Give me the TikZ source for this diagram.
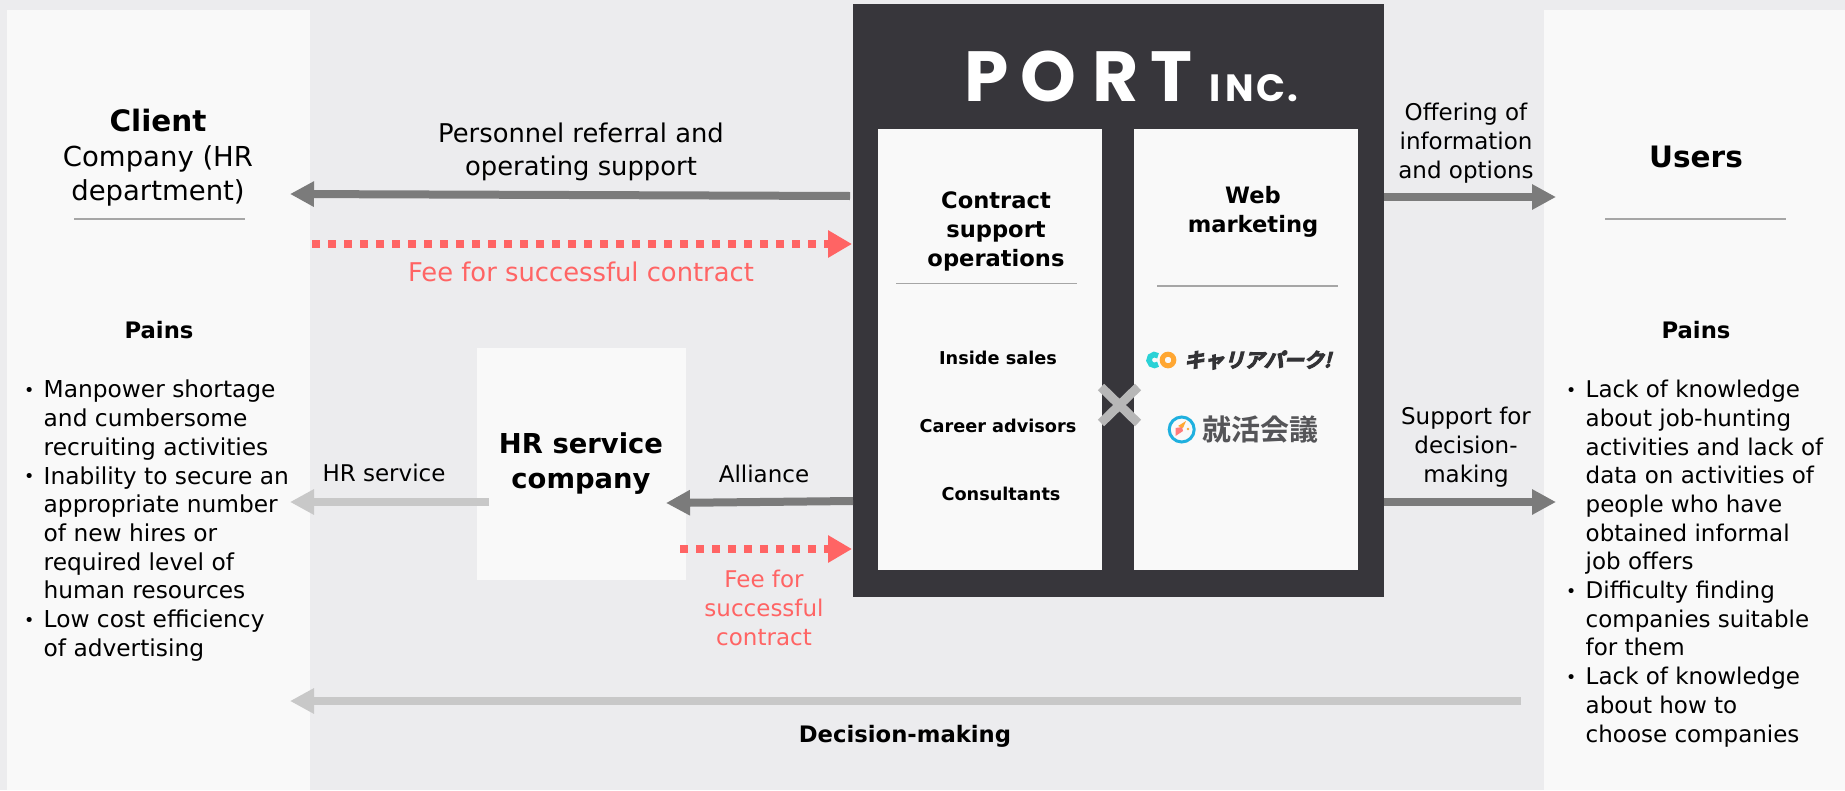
\documentclass[tikz,border=0pt]{standalone}
\usepackage{fontspec}
\setmainfont{DejaVu Sans}
\newfontfamily\cjkbold[FakeSlant=0.25,FakeBold=5]{Noto Sans CJK JP Bold}
\newfontfamily\cjkreg{Noto Sans CJK JP Bold}
\newfontfamily\portfont{Poppins}
\usetikzlibrary{arrows.meta}
\definecolor{bgc}{HTML}{ECECEE}
\definecolor{panel}{HTML}{F9F9F9}
\definecolor{darkb}{HTML}{37363B}
\definecolor{arrd}{HTML}{7B7B7B}
\definecolor{arrl}{HTML}{C8C8C8}
\definecolor{crossc}{HTML}{B7B7B7}
\definecolor{feec}{HTML}{FF6464}
\definecolor{sepc}{HTML}{A6A6A6}
\definecolor{logog}{HTML}{555558}
\definecolor{logok}{HTML}{333336}
\definecolor{logoc}{HTML}{2BD2D6}
\definecolor{logoo}{HTML}{FFA733}
\definecolor{logob}{HTML}{1FB0DF}
\newcommand{\bl}{\makebox[19.5pt][l]{\raisebox{1.5pt}{\scalebox{0.75}{•}}}}
\newcommand{\nb}{\makebox[19.5pt][l]{}}
\tikzset{
 x=1pt,y=-1pt,
 txt/.style={inner sep=0,align=center,text=black,font=\fontsize{23}{28.7}\selectfont},
 feetxt/.style={txt,text=feec},
 labw/.style={inner sep=0,align=center,text=black,font=\fontsize{25.8}{33}\selectfont},
 btxt/.style={inner sep=0,align=center,text=black,font=\bfseries\fontsize{22.7}{28.5}\selectfont},
 smallb/.style={inner sep=0,align=center,text=black,font=\bfseries\fontsize{17.7}{24}\selectfont},
 bigb/.style={inner sep=0,align=center,text=black,font=\bfseries\fontsize{27.4}{35}\selectfont},
 headb/.style={inner sep=0,align=center,text=black,font=\bfseries\fontsize{29.5}{35}\selectfont},
 boxh/.style={inner sep=0,align=center,text=black,font=\bfseries\fontsize{22.6}{29}\selectfont},
 bullets/.style={inner sep=0,align=left,anchor=north west,text=black,font=\fontsize{23.3}{28.7}\selectfont},
 sep/.style={draw=sepc,line width=1.2pt},
 conn/.style={line width=8pt,-{Triangle[length=24pt,width=24pt]}},
 connd/.style={conn,draw=arrd},
 connl/.style={conn,draw=arrl},
 connf/.style={line width=8pt,draw=feec,dash pattern=on 8pt off 8pt,-{Triangle[length=24pt,width=26pt]}},
 bigl/.style={inner sep=0,text=white,anchor=base,font=\portfont\bfseries\fontsize{71}{71}\selectfont},
 smalll/.style={inner sep=0,text=white,anchor=base,font=\portfont\bfseries\fontsize{38}{38}\selectfont},
}
\begin{document}
\begin{tikzpicture}
\useasboundingbox (0,0) rectangle (1845,790);
\fill[bgc] (0,0) rectangle (1845,790);
% panels
\fill[panel] (7,10) rectangle (310,790);
\fill[panel] (1544,10) rectangle (1845,790);
\fill[panel] (477,348) rectangle (686,580);
\fill[darkb] (853,4) rectangle (1384,597);
\fill[panel] (878,129) rectangle (1102,570);
\fill[panel] (1134,129) rectangle (1358,570);
% PORT logo
\node[bigl] (pP) at (987,101) {P};
\node[bigl] (pO) at (1048,101) {O};
\node[bigl] (pR) at (1116,101) {R};
\node[bigl] (pT) at (1171,101) {T};
\node[smalll] (pI) at (1215,101) {I};
\node[smalll] (pN) at (1240,101) {N};
\node[smalll] (pC) at (1271,101) {C};
\node[smalll] (pd) at (1293,101) {.};
% left column
\node[headb] (client) at (158,121) {Client};
\node[labw,font=\fontsize{27.5}{34}\selectfont] (company) at (158,176) {Company (HR\\department)};
\draw[sep] (74,219) -- (245,219);
\node[btxt] (painsl) at (159,330) {Pains};
\node[bullets] (listl) at (24,380) {\bl Manpower shortage\\\nb and cumbersome\\\nb recruiting activities\\\bl Inability to secure an\\\nb appropriate number\\\nb of new hires or\\\nb required level of\\\nb human resources\\\bl Low cost efficiency\\\nb of advertising};
% right column
\node[headb] (users) at (1696,157) {Users};
\draw[sep] (1605,219) -- (1786,219);
\node[btxt] (painsr) at (1696,330) {Pains};
\node[bullets,font=\fontsize{23}{28.7}\selectfont] (listr) at (1566,380) {\bl Lack of knowledge\\\nb about job-hunting\\\nb activities and lack of\\\nb data on activities of\\\nb people who have\\\nb obtained informal\\\nb job offers\\\bl Difficulty finding\\\nb companies suitable\\\nb for them\\\bl Lack of knowledge\\\nb about how to\\\nb choose companies};
% HR
\node[bigb] (hrc) at (581,464) {HR service\\company};
% centre labels
\node[labw] (refl) at (581,152) {Personnel referral and\\operating support};
\node[labw,text=feec] (feea) at (581,272) {Fee for successful contract};
\node[txt] (hrs) at (384,473) {HR service};
\node[txt] (alli) at (764,474) {Alliance};
\node[feetxt] (feeb) at (764,608) {Fee for\\successful\\contract};
\node[txt] (offer) at (1466,143) {Offering of\\information\\and options};
\node[txt] (supp) at (1466,447) {Support for\\decision-\\making};
\node[btxt] (dec) at (905,736) {Decision-making};
% boxes text
\node[boxh] (cso) at (996,231) {Contract\\support\\operations};
\node[boxh] (web) at (1253,212) {Web\\marketing};
\draw[sep] (896,283.5) -- (1077,283.5);
\draw[sep] (1157,286) -- (1338,286);
\node[smallb] (ins) at (998,358) {Inside sales};
\node[smallb] (car) at (998,426) {Career advisors};
\node[smallb] (con) at (1001,494) {Consultants};
% logos
\draw[line width=5.5pt,draw=logoc] (1154.5,360) ++(-50:5.5) arc (-50:-310:5.5);
\draw[line width=5pt,draw=logoo] (1168,360) circle (5.8);
\node[inner sep=0,text=logok,anchor=west] (cp) at (1184,360) {\cjkbold\fontsize{20}{20}\selectfont キャリアパーク!};
\draw[line width=3pt,draw=logob] (1181.7,429.5) circle (12.5);
\fill[feec!85!white] (1175.5,436) -- (1175.5,428) -- (1182,427) -- (1183,431) -- cycle;
\fill[logoo] (1178,426) -- (1186,421) -- (1183,428) -- cycle;
\fill[logoo] (1188,429) circle (1.3);
\node[inner sep=0,text=logog,anchor=west] (sj) at (1202,430) {\cjkreg\fontsize{29}{29}\selectfont 就活会議};
% connectors
\coordinate (a1s) at (850,196); \coordinate (a1e) at (290,194);
\draw[connd] (a1s) -- (a1e);
\coordinate (a2s) at (312,244); \coordinate (a2e) at (852,244);
\draw[connf] (a2s) -- (a2e);
\coordinate (a3s) at (1384,197); \coordinate (a3e) at (1556,197);
\draw[connd] (a3s) -- (a3e);
\coordinate (a4s) at (1384,502); \coordinate (a4e) at (1556,502);
\draw[connd] (a4s) -- (a4e);
\coordinate (a5s) at (489,502); \coordinate (a5e) at (290,502);
\draw[connl] (a5s) -- (a5e);
\coordinate (a6s) at (853,501); \coordinate (a6e) at (666,503);
\draw[connd] (a6s) -- (a6e);
\coordinate (a7s) at (680,549); \coordinate (a7e) at (852,549);
\draw[connf] (a7s) -- (a7e);
\coordinate (a8s) at (1521,701); \coordinate (a8e) at (290,701);
\draw[connl] (a8s) -- (a8e);
% cross
\coordinate (xa) at (1101,387); \coordinate (xb) at (1138,423);
\coordinate (xc) at (1101,423); \coordinate (xd) at (1138,387);
\draw[line width=9pt,draw=crossc] (xa) -- (xb);
\draw[line width=9pt,draw=crossc] (xc) -- (xd);
\end{tikzpicture}
\end{document}
